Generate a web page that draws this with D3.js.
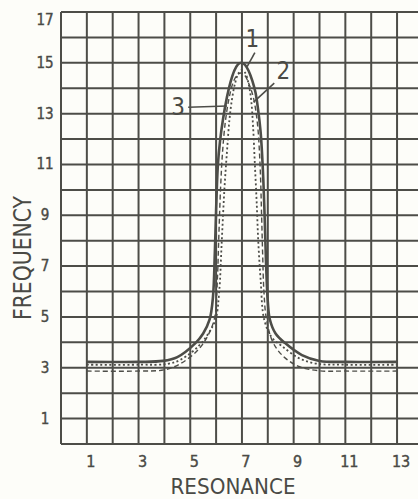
<!DOCTYPE html>
<html>
<head>
<meta charset="utf-8">
<script src="https://cdn.jsdelivr.net/npm/d3@7"></script>
<style>
  html, body { margin: 0; padding: 0; background: #fdfdf9; }
  svg { display: block; }
  text { font-family: "DejaVu Sans Condensed", "DejaVu Sans", sans-serif; fill: #4a4a45; }
</style>
</head>
<body>
<div id="chart"></div>
<script>
// tick labels
var xTicks = [1, 3, 5, 7, 9, 11, 13];
var yTicks = [1, 3, 5, 7, 9, 11, 13, 15, 17];

// curve 1 (solid)
var c1x = [1, 3, 3.95, 4.5, 5.2, 5.5, 5.75, 5.88, 5.95, 6.0, 6.07, 6.15, 6.27, 6.42, 6.56, 6.7, 6.84, 6.98, 7.12, 7.26, 7.4, 7.52, 7.62, 7.72, 7.8, 7.87, 7.93, 8.0, 8.08, 8.3, 8.67, 9.32, 10.0, 11, 13];
var c1y = [3.23, 3.23, 3.27, 3.42, 3.97, 4.35, 4.9, 5.8, 7.5, 9.2, 11, 11.9, 12.8, 13.65, 14.25, 14.68, 14.93, 15.0, 14.92, 14.68, 14.3, 13.85, 13.2, 12.3, 11, 9.2, 7.2, 5.6, 4.9, 4.35, 3.97, 3.5, 3.27, 3.23, 3.23];

// curve 2 (dotted)
var c2x = [1, 3, 4.1, 4.65, 5.35, 5.7, 5.98, 6.12, 6.22, 6.32, 6.42, 6.52, 6.62, 6.74, 6.87, 7.0, 7.13, 7.25, 7.35, 7.43, 7.5, 7.57, 7.63, 7.72, 7.86, 8.15, 8.55, 9.2, 9.9, 11, 13];
var c2y = [3.12, 3.12, 3.15, 3.33, 3.88, 4.35, 4.9, 6, 8, 10, 11.5, 12.8, 13.6, 14.22, 14.6, 14.72, 14.6, 14.2, 13.6, 12.5, 11, 9.5, 8, 6.5, 4.9, 4.2, 3.85, 3.38, 3.16, 3.12, 3.12];

// curve 3 (dashed)
var c3x = [1, 3, 4.0, 4.6, 5.3, 5.7, 5.95, 6.05, 6.1, 6.17, 6.25, 6.36, 6.5, 6.65, 6.8, 6.95, 7.1, 7.28, 7.45, 7.6, 7.7, 7.76, 7.8, 7.85, 7.95, 8.2, 8.6, 9.2, 10, 11, 13];
var c3y = [2.87, 2.87, 2.92, 3.15, 3.7, 4.3, 5.0, 6.5, 8, 10, 11.5, 12.7, 13.6, 14.2, 14.5, 14.6, 14.52, 14.15, 13.6, 12.6, 11, 9, 7.5, 6, 4.9, 4.0, 3.45, 3.05, 2.88, 2.87, 2.87];

// curve labels: text, position, leader start/end (data units)
var curveLabels = ["1", "2", "3"];
var labelX = [7.4, 8.6, 4.53];
var labelY = [15.94, 14.68, 13.26];
var leaderFrom = [[7.5, 15.4], [8.25, 14.2], [4.92, 13.25]];
var leaderTo = [[7.2, 14.85], [7.45, 13.45], [6.42, 13.3]];

var width = 418, height = 499;
var margin = {top: 12, left: 61, bottom: 55};
var ink = "#4d4d48";

var x = d3.scaleLinear().domain([0, 14]).range([margin.left, margin.left + 14 * 25.85]);
var y = d3.scaleLinear().domain([0, 17]).range([height - margin.bottom, margin.top]);

var svg = d3.select("#chart").append("svg")
    .attr("width", width)
    .attr("height", height);

svg.append("rect").attr("width", width).attr("height", height).attr("fill", "#fdfdf9");

// grid
var grid = svg.append("g").attr("stroke", ink).attr("stroke-width", 2);
grid.selectAll("line.v")
    .data(d3.range(0, 15))
    .enter().append("line")
    .attr("class", "v")
    .attr("x1", function(d) { return x(d); })
    .attr("x2", function(d) { return x(d); })
    .attr("y1", y(17))
    .attr("y2", y(0));
grid.selectAll("line.h")
    .data(d3.range(0, 18))
    .enter().append("line")
    .attr("class", "h")
    .attr("x1", x(0))
    .attr("x2", x(14))
    .attr("y1", function(d) { return y(d); })
    .attr("y2", function(d) { return y(d); });

// tick labels
svg.selectAll("text.xt")
    .data(xTicks)
    .enter().append("text")
    .attr("class", "xt")
    .attr("x", function(d) { return x(d) + 4; })
    .attr("y", y(0) + 17)
    .attr("text-anchor", "middle")
    .attr("dominant-baseline", "central")
    .attr("font-size", 16)
    .attr("stroke", "#4a4a45").attr("stroke-width", 0.4)
    .text(function(d) { return d; });

svg.selectAll("text.yt")
    .data(yTicks)
    .enter().append("text")
    .attr("class", "yt")
    .attr("x", 45)
    .attr("y", function(d) { return Math.max(y(d), 20); })
    .attr("text-anchor", "middle")
    .attr("dominant-baseline", "central")
    .attr("font-size", 15)
    .attr("stroke", "#4a4a45").attr("stroke-width", 0.4)
    .text(function(d) { return d; });

// axis titles
svg.append("text")
    .attr("x", 233)
    .attr("y", 494)
    .attr("text-anchor", "middle")
    .attr("font-size", 22)
    .attr("textLength", 125)
    .attr("lengthAdjust", "spacingAndGlyphs")
    .text("RESONANCE");

svg.append("text")
    .attr("transform", "translate(31,258) rotate(-90)")
    .attr("text-anchor", "middle")
    .attr("font-size", 24)
    .attr("textLength", 124)
    .attr("lengthAdjust", "spacingAndGlyphs")
    .text("FREQUENCY");

// curves
var line = d3.line()
    .x(function(d) { return x(d[0]); })
    .y(function(d) { return y(d[1]); })
    .curve(d3.curveCatmullRom.alpha(0.5));

function pts(xs, ys) { return xs.map(function(v, i) { return [v, ys[i]]; }); }

svg.append("path")
    .attr("d", line(pts(c3x, c3y)))
    .attr("fill", "none").attr("stroke", ink)
    .attr("stroke-width", 1.4)
    .attr("stroke-dasharray", "5,3");

svg.append("path")
    .attr("d", line(pts(c2x, c2y)))
    .attr("fill", "none").attr("stroke", ink)
    .attr("stroke-width", 1.8)
    .attr("stroke-dasharray", "2,2.5");

svg.append("path")
    .attr("d", line(pts(c1x, c1y)))
    .attr("fill", "none").attr("stroke", ink)
    .attr("stroke-width", 2.6);

// curve labels with leader lines
curveLabels.forEach(function(t, i) {
    svg.append("line")
        .attr("x1", x(leaderFrom[i][0])).attr("y1", y(leaderFrom[i][1]))
        .attr("x2", x(leaderTo[i][0])).attr("y2", y(leaderTo[i][1]))
        .attr("stroke", ink).attr("stroke-width", 1.6);
    svg.append("text")
        .attr("x", x(labelX[i]))
        .attr("y", y(labelY[i]))
        .attr("text-anchor", "middle")
        .attr("dominant-baseline", "central")
        .attr("font-size", 24)
        .text(t);
});
</script>
</body>
</html>
